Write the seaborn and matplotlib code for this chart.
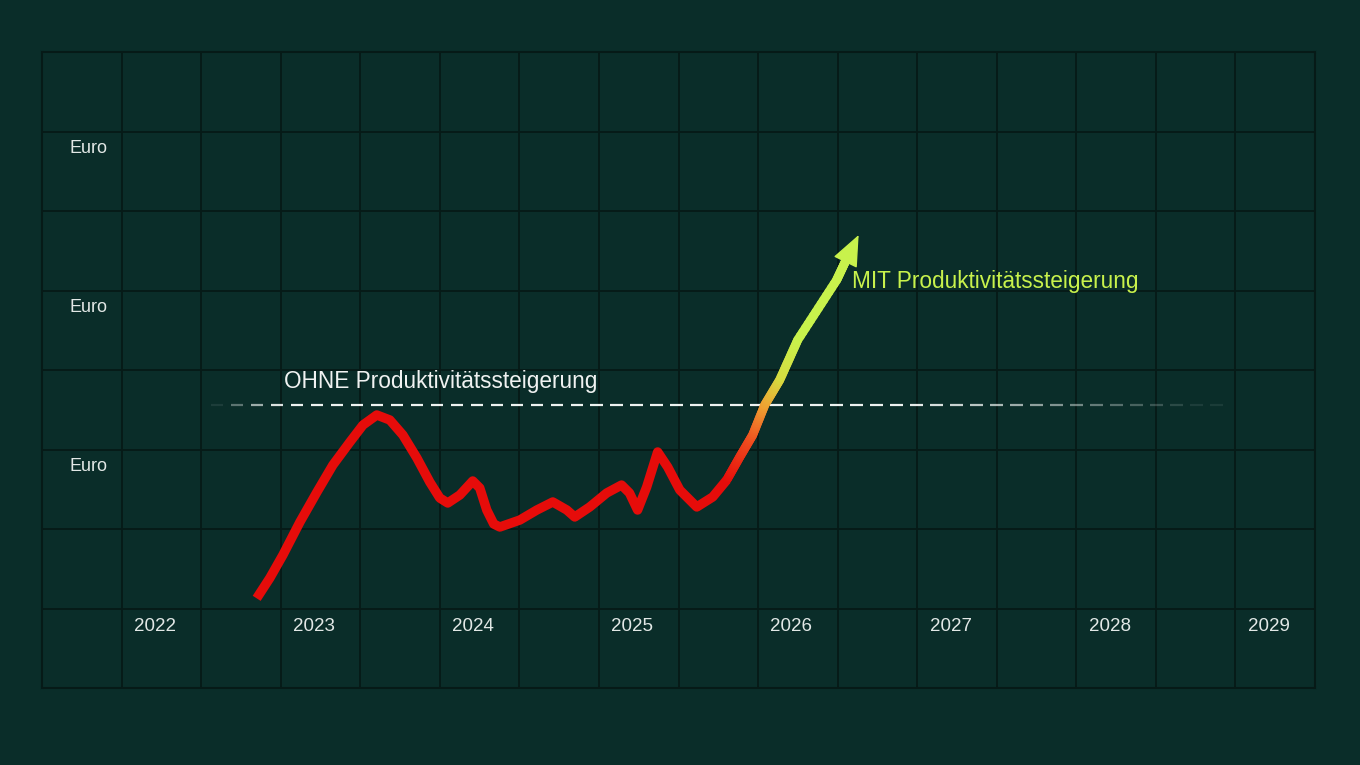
import numpy as np
import pandas as pd
import matplotlib
matplotlib.use("Agg")
import matplotlib.pyplot as plt
import seaborn as sns
from matplotlib.collections import LineCollection
from matplotlib.colors import LinearSegmentedColormap

# data (x in years, y in grid rows)
years = [2022, 2023, 2024, 2025, 2026, 2027, 2028, 2029]
euro_levels = [6.78, 4.79, 2.78]

ohne_x = [2022.639, 2022.722, 2022.804, 2022.911, 2023.018, 2023.118, 2023.225, 2023.307,
          2023.394, 2023.476, 2023.558, 2023.646, 2023.727, 2023.790, 2023.840, 2023.916,
          2023.997, 2024.041, 2024.085, 2024.129, 2024.167, 2024.293, 2024.400, 2024.500,
          2024.588, 2024.638, 2024.732, 2024.839, 2024.932, 2024.982, 2025.033, 2025.090,
          2025.159, 2025.222, 2025.298, 2025.405, 2025.505, 2025.593]
ohne_y = [1.128, 1.384, 1.673, 2.088, 2.465, 2.805, 3.094, 3.308,
          3.434, 3.371, 3.182, 2.893, 2.591, 2.390, 2.327, 2.428,
          2.604, 2.516, 2.239, 2.063, 2.025, 2.113, 2.239, 2.340,
          2.239, 2.151, 2.277, 2.453, 2.553, 2.453, 2.239, 2.528,
          2.969, 2.780, 2.491, 2.277, 2.403, 2.616]

mit_x = [2025.593, 2025.675, 2025.756, 2025.832, 2025.926, 2026.039, 2026.284, 2026.340]
mit_y = [2.616, 2.906, 3.182, 3.560, 3.874, 4.377, 5.132, 5.370]
arrow_tip = (2026.422, 5.698)

ohne_level = 3.56
ohne_span = (2022.35, 2028.72)

bg = "#0a2d29"
grid_c = "#061a17"
txt_c = "#e2e8e6"
red = "#e60c0a"
lime = "#c8f24c"

sns.set_style("dark", {"axes.facecolor": bg, "figure.facecolor": bg})
plt.rcParams["font.family"] = ["Liberation Sans", "DejaVu Sans"]

fig = plt.figure(figsize=(13.6, 7.65), dpi=100)
ax = fig.add_axes([42 / 1360, 77 / 765, 1273 / 1360, 636 / 765])

x0 = 2021.29
ax.set_xlim(x0, x0 + 8)
ax.set_ylim(0, 8)
ax.set_xticks(np.arange(x0, x0 + 8.01, 0.5))
ax.set_yticks(np.arange(0, 9, 1))
ax.tick_params(length=0, labelbottom=False, labelleft=False)
ax.grid(True, color=grid_c, lw=1.3)
for s in ax.spines.values():
    s.set_color(grid_c)
    s.set_linewidth(1.5)

# labels
for yr in years:
    ax.text(yr, 0.77, str(yr), color=txt_c, fontsize=13.5, ha="center", va="center")
for lv in euro_levels:
    ax.text(2021.585, lv, "Euro", color=txt_c, fontsize=13, ha="center", va="center")

# dashed reference line, fading at both ends
dash, gap = 12.5 / 159.2, 7.5 / 159.2
starts = np.arange(ohne_span[0], ohne_span[1], dash + gap)
segs, cols = [], []
for s0 in starts:
    mid = s0 + dash / 2
    a = min(1.0, (mid - ohne_span[0]) / 0.45, (ohne_span[1] - mid) / 2.0)
    a = max(a, 0.08)
    segs.append([(s0, ohne_level), (min(s0 + dash, ohne_span[1]), ohne_level)])
    cols.append((0.93, 0.95, 0.94, a))
ax.add_collection(LineCollection(segs, colors=cols, linewidths=1.6, zorder=3))

ax.text(2022.81, 3.85, "OHNE Produktivitätssteigerung", color="#f0f2f1",
        fontsize=16.3, ha="left", va="center")

# red part of the curve
df = pd.DataFrame({"x": ohne_x, "y": ohne_y})
sns.lineplot(data=df, x="x", y="y", sort=False, color=red, lw=6.8, ax=ax,
             solid_joinstyle="round", solid_capstyle="butt", zorder=4)

# gradient part up to the arrow
cmap = LinearSegmentedColormap.from_list(
    "grow", [(0.0, red), (0.16, "#ef4a1e"), (0.31, "#eea232"),
             (0.42, "#d6dc40"), (0.58, lime), (1.0, lime)])
gx, gy = [], []
for i in range(len(mit_x) - 1):
    t = np.linspace(0, 1, 15, endpoint=False)
    gx.extend(mit_x[i] + t * (mit_x[i + 1] - mit_x[i]))
    gy.extend(mit_y[i] + t * (mit_y[i + 1] - mit_y[i]))
gx.append(mit_x[-1])
gy.append(mit_y[-1])
pts = np.column_stack([gx, gy])
gsegs = np.stack([pts[:-1], pts[1:]], axis=1)
vals = (pts[:-1, 1] - mit_y[0]) / (arrow_tip[1] - mit_y[0])
lc = LineCollection(gsegs, colors=cmap(vals), linewidths=6.5, capstyle="round", zorder=4)
ax.add_collection(lc)

ax.annotate("", xy=arrow_tip, xytext=(mit_x[-2], mit_y[-2]),
            arrowprops=dict(arrowstyle="-|>,head_length=1.0,head_width=0.42",
                            color=lime, lw=1, mutation_scale=20,
                            shrinkA=0, shrinkB=0), zorder=5)

ax.text(2026.38, 5.11, "MIT Produktivitätssteigerung", color=lime,
        fontsize=16.3, ha="left", va="center")

ax.set_xlabel("")
ax.set_ylabel("")
fig.savefig("out.png", dpi=100, facecolor=bg)
